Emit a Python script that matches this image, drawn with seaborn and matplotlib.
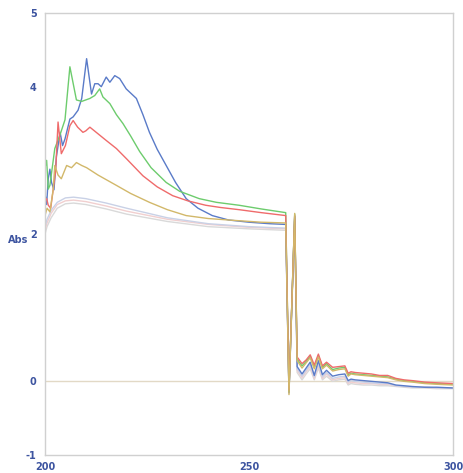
import matplotlib
matplotlib.use("Agg")
import matplotlib.pyplot as plt
import seaborn as sns
import numpy as np

# ---------------- data ----------------
blue_x = [200, 200.4, 200.8, 201.2, 201.6, 202.2, 202.8, 203.7, 204.3, 204.9, 206.1, 206.9, 208.1, 209, 210.2,
          211.4, 212.2, 213, 213.8, 215, 215.9, 217.1, 218.3, 219.9, 222.4, 224, 225.6, 227.5, 229.7, 232,
          234.6, 237.5, 241, 245, 250, 255, 259]
blue_y = [2.55, 2.4, 2.75, 2.88, 2.7, 2.6, 3.05, 3.38, 3.2, 3.29, 3.56, 3.59, 3.68, 3.84, 4.38,
          3.9, 4.04, 4.04, 4.0, 4.13, 4.06, 4.15, 4.11, 3.97, 3.84, 3.62, 3.38, 3.15, 2.93, 2.7,
          2.48, 2.35, 2.25, 2.19, 2.16, 2.14, 2.13]

green_x = [200, 200.4, 200.8, 201.2, 202.4, 203.7, 204.9, 206.1, 207.7, 209, 211, 212.2, 213.4, 214.2, 215.9,
           217.5, 219.1, 221, 223.2, 226, 229.7, 233, 237.8, 242, 247.6, 253, 259]
green_y = [2.9, 3.0, 2.61, 2.66, 3.16, 3.35, 3.55, 4.27, 3.82, 3.8, 3.84, 3.88, 3.97, 3.86, 3.77,
           3.62, 3.5, 3.33, 3.12, 2.9, 2.7, 2.58, 2.48, 2.43, 2.39, 2.34, 2.29]

red_x = [200, 200.4, 200.8, 201.4, 202, 202.6, 203.2, 204, 205, 206.1, 206.9, 208, 209.3, 210, 211, 213, 215,
         217.5, 220, 224, 227.5, 231.3, 235, 239.4, 243, 247.6, 253, 259]
red_y = [2.45, 2.48, 2.39, 2.35, 2.6, 2.85, 3.52, 3.09, 3.2, 3.47, 3.54, 3.45, 3.38, 3.4, 3.45, 3.36, 3.27,
         3.16, 3.02, 2.79, 2.64, 2.52, 2.45, 2.39, 2.36, 2.33, 2.29, 2.25]

yellow_x = [200, 200.5, 201.2, 202, 202.4, 203.2, 204, 205.3, 206.5, 207.7, 209, 210.2, 213, 217.5, 221,
            225.6, 230, 234.6, 240, 247.6, 253, 259]
yellow_y = [2.25, 2.35, 2.3, 2.6, 2.93, 2.8, 2.75, 2.93, 2.9, 2.97, 2.93, 2.9, 2.8, 2.66, 2.55,
            2.43, 2.33, 2.25, 2.21, 2.18, 2.16, 2.15]

pale_x = [200, 200.5, 201.5, 203, 205, 207, 210, 215, 220, 230, 240, 250, 259]
pale1_y = [2.1, 2.2, 2.32, 2.43, 2.49, 2.5, 2.48, 2.42, 2.35, 2.22, 2.14, 2.1, 2.08]
pale2_y = [2.05, 2.15, 2.28, 2.4, 2.45, 2.46, 2.44, 2.38, 2.31, 2.2, 2.13, 2.09, 2.07]
pale3_y = [2.0, 2.1, 2.22, 2.35, 2.41, 2.42, 2.4, 2.34, 2.27, 2.17, 2.1, 2.07, 2.05]

tail_x = [259.8, 261.2, 261.8, 263, 264, 265, 266, 267, 268, 269, 270.5, 272, 273.5, 274.3, 275, 276,
          278, 280, 282, 284, 286, 288, 290, 293, 296, 300]
red_tail = [-0.12, 2.25, 0.33, 0.24, 0.29, 0.36, 0.22, 0.37, 0.21, 0.26, 0.19, 0.20, 0.21, 0.11, 0.13, 0.12,
            0.11, 0.10, 0.08, 0.08, 0.04, 0.02, 0.01, -0.01, -0.02, -0.03]
green_tail = [-0.14, 2.27, 0.30, 0.21, 0.27, 0.34, 0.19, 0.35, 0.19, 0.24, 0.16, 0.18, 0.19, 0.09, 0.11, 0.10,
              0.09, 0.08, 0.07, 0.06, 0.03, 0.01, 0.00, -0.02, -0.03, -0.04]
yellow_tail = [-0.18, 2.28, 0.28, 0.18, 0.25, 0.32, 0.17, 0.33, 0.17, 0.22, 0.14, 0.16, 0.17, 0.07, 0.10, 0.09,
               0.08, 0.07, 0.06, 0.05, 0.02, 0.00, -0.01, -0.03, -0.04, -0.05]
blue_tail = [-0.15, 2.24, 0.20, 0.10, 0.18, 0.26, 0.08, 0.28, 0.09, 0.15, 0.07, 0.09, 0.10, 0.01, 0.03, 0.02,
             0.01, 0.00, -0.01, -0.02, -0.05, -0.06, -0.07, -0.08, -0.08, -0.09]
pale1_tail = [-0.16, 2.22, 0.17, 0.07, 0.15, 0.23, 0.06, 0.24, 0.06, 0.12, 0.04, 0.06, 0.07, -0.01, 0.01, 0.00,
              -0.01, -0.02, -0.03, -0.03, -0.06, -0.07, -0.08, -0.08, -0.09, -0.09]
pale2_tail = [-0.15, 2.21, 0.15, 0.05, 0.13, 0.20, 0.04, 0.21, 0.04, 0.10, 0.02, 0.04, 0.05, -0.03, -0.01, -0.02,
              -0.03, -0.03, -0.04, -0.04, -0.06, -0.07, -0.08, -0.08, -0.09, -0.09]
pale3_tail = [-0.17, 2.20, 0.12, 0.02, 0.10, 0.17, 0.02, 0.18, 0.02, 0.07, 0.00, 0.02, 0.03, -0.05, -0.03, -0.04,
              -0.05, -0.05, -0.06, -0.06, -0.07, -0.08, -0.09, -0.09, -0.10, -0.10]

x_ticks = [200, 225, 250, 275, 300]
x_tick_labels = ["200", "", "250", "", "300"]
y_ticks = [-1, 0, 2, 4, 5]
y_tick_labels = ["-1", "0", "2", "4", "5"]

# ---------------- plot ----------------
sns.set_style("white")
plt.rcParams["font.family"] = ["DejaVu Sans"]

fig = plt.figure(figsize=(4.63, 4.73), dpi=100)
ax = fig.add_axes([45 / 463, 1 - 455 / 473, 408 / 463, 442 / 473])

ax.axhline(0, color="#e2d9c6", lw=1.0, zorder=0)

series = [
    (pale_x, pale3_y, pale3_tail, "#d9d9d9"),
    (pale_x, pale2_y, pale2_tail, "#f1cfcf"),
    (pale_x, pale1_y, pale1_tail, "#c9d1e6"),
    (blue_x, blue_y, blue_tail, "#5a7bc8"),
    (green_x, green_y, green_tail, "#6dcc6d"),
    (red_x, red_y, red_tail, "#ef6b6b"),
    (yellow_x, yellow_y, yellow_tail, "#d2b86a"),
]
for hx, hy, ty, col in series:
    xs = list(hx) + list(tail_x)
    ys = list(hy) + list(ty)
    sns.lineplot(x=xs, y=ys, ax=ax, color=col, lw=1.0, sort=False, estimator=None)

ax.set_xlim(200, 300)
ax.set_ylim(-1, 5)
ax.set_xticks(x_ticks)
ax.set_xticklabels(x_tick_labels)
ax.set_yticks(y_ticks)
ax.set_yticklabels(y_tick_labels)

lab_col = "#3d54a0"
ax.tick_params(axis="x", direction="in", length=4, color="#cccccc", pad=5,
               labelsize=7, labelcolor=lab_col)
ax.tick_params(axis="y", direction="out", length=4, color="#cccccc", pad=2,
               labelsize=7, labelcolor=lab_col)
for lab in ax.get_xticklabels() + ax.get_yticklabels():
    lab.set_fontweight("bold")

for sp in ax.spines.values():
    sp.set_color("#d0d0d0")
    sp.set_linewidth(1.0)

ax.set_xlabel("")
ax.set_ylabel("Abs", rotation=0, fontsize=7, fontweight="bold", color=lab_col,
              ha="center", va="center")
ax.yaxis.set_label_coords(-0.066, 0.487)

fig.savefig("out.png", dpi=100)
